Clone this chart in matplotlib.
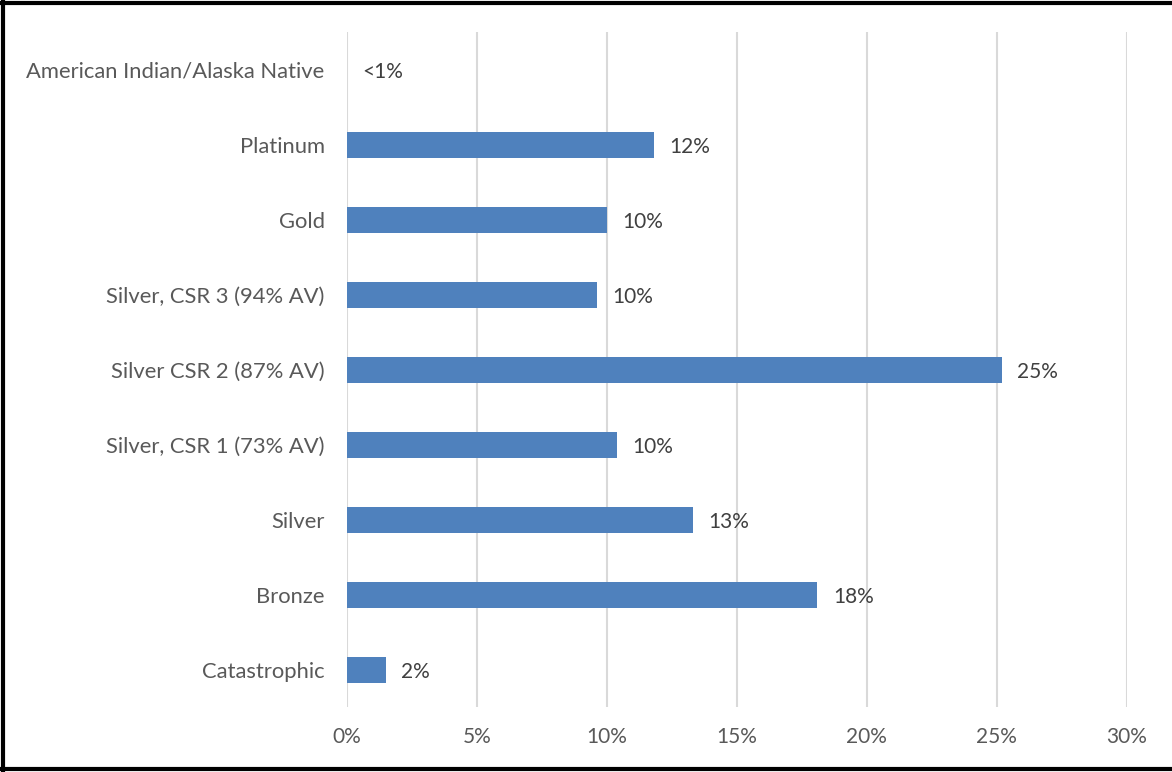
import matplotlib.pyplot as plt
from matplotlib.lines import Line2D

plt.rcParams['font.family'] = ['Lato', 'DejaVu Sans']

# plan levels, top to bottom
categories = ['American Indian/Alaska Native', 'Platinum', 'Gold',
              'Silver, CSR 3 (94% AV)', 'Silver CSR 2 (87% AV)',
              'Silver, CSR 1 (73% AV)', 'Silver', 'Bronze', 'Catastrophic']
shares = [0.0, 11.8, 10.0, 9.6, 25.2, 10.4, 13.3, 18.1, 1.5]
labels = ['<1%', '12%', '10%', '10%', '25%', '10%', '13%', '18%', '2%']
xticks = [0, 5, 10, 15, 20, 25, 30]

fig = plt.figure(figsize=(11.72, 7.72), dpi=100)
ax = fig.add_axes([0.296, 0.0836, 0.6655, 0.8744])

ypos = list(range(len(categories)))
ax.barh(ypos, shares, height=0.35, color='#4f81bd', zorder=3)

for y, v, lab in zip(ypos, shares, labels):
    ax.annotate(lab, (v, y), xytext=(11, 0), textcoords='offset points',
                va='center_baseline', ha='left', fontsize=15, color='#404040')

ax.set_xlim(0, 30)
ax.set_ylim(len(categories) - 0.5, -0.5)
ax.set_xticks(xticks)
ax.set_xticklabels([f'{t}%' for t in xticks])
ax.set_yticks(ypos)
ax.set_yticklabels(categories)
ax.tick_params(axis='both', length=0, labelsize=15, colors='#595959')
ax.tick_params(axis='y', pad=16, labelsize=15.8)
ax.tick_params(axis='x', pad=14)
ax.xaxis.grid(True, color='#d9d9d9', linewidth=1.5, zorder=0)
for s in ax.spines.values():
    s.set_visible(False)

# black frame on three sides
frame = dict(color='black', linewidth=3, transform=fig.transFigure)
fig.add_artist(Line2D([0, 1], [0.9966, 0.9966], **frame))
fig.add_artist(Line2D([0.0029, 0.0029], [0, 1], **frame))
fig.add_artist(Line2D([0, 1], [0.0045, 0.0045], **frame))

fig.savefig('out.png', dpi=100)
